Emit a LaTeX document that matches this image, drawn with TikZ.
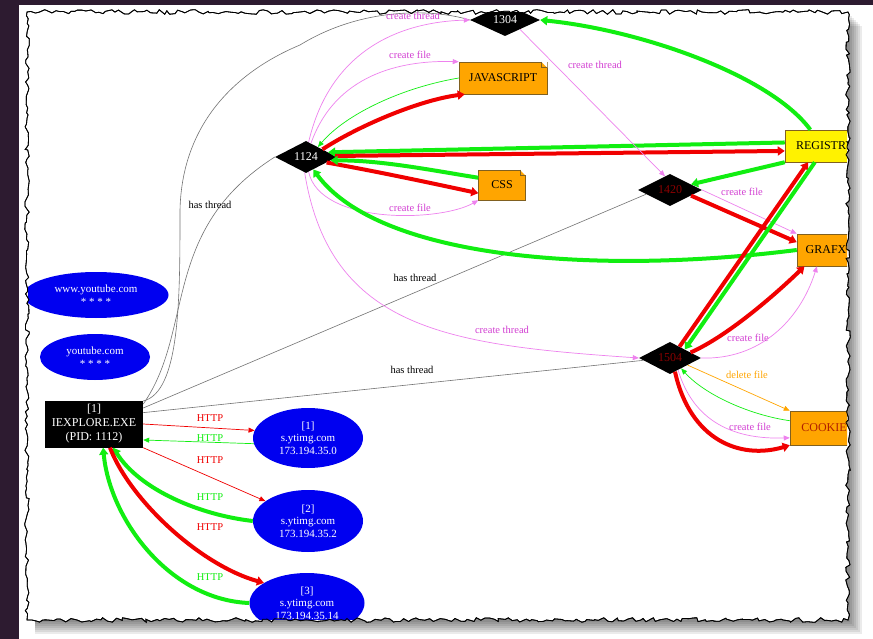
\documentclass[tikz,border=0pt]{standalone}
\usepackage{fontspec}
\setmainfont{Liberation Serif}
\usetikzlibrary{shapes.geometric,arrows.meta,decorations.pathmorphing}
\definecolor{bgpurple}{HTML}{2D1B30}
\definecolor{gvred}{HTML}{F00000}
\definecolor{gvgreen}{HTML}{11EE11}
\definecolor{gvviolet}{HTML}{EE82EE}
\definecolor{gvmag}{HTML}{D23ED2}
\definecolor{gvorange}{HTML}{FFA500}
\definecolor{gvblue}{HTML}{0000F0}
\definecolor{dkred}{HTML}{8B0000}
\definecolor{cookietxt}{HTML}{B02000}
\definecolor{boxline}{HTML}{806020}
\begin{document}
\begin{tikzpicture}[x=1pt,y=-1pt,
  nfont/.style={font=\fontsize{12}{14}\selectfont},
  lfont/.style={font=\fontsize{10.5}{12}\selectfont},
  proc/.style={diamond, fill=black, inner sep=0pt, nfont},
  filebox/.style={rectangle, fill=gvorange, draw=boxline, line width=0.5pt, inner sep=2pt, nfont},
  host/.style={ellipse, fill=gvblue, text=white, align=center, inner sep=0pt, font=\fontsize{11}{12.5}\selectfont},
  elab/.style={lfont, inner sep=1pt},
  hasthr/.style={draw=black!55, line width=0.6pt},
  thinr/.style={draw=gvred, line width=0.7pt, -{Triangle[length=6pt,width=5pt]}},
  thing/.style={draw=gvgreen, line width=0.7pt, -{Triangle[length=6pt,width=5pt]}},
  thinv/.style={draw=gvviolet, line width=0.7pt, -{Triangle[length=6pt,width=5pt]}},
  thino/.style={draw=gvorange, line width=0.7pt, -{Triangle[length=6pt,width=5pt]}},
  fatr/.style={draw=gvred, line width=4pt, -{Triangle[length=7pt,width=9pt]}},
  fatg/.style={draw=gvgreen, line width=4pt, -{Triangle[length=7pt,width=9pt]}},
  torn/.style={decorate, decoration={random steps, segment length=4pt, amplitude=2.3pt}},
]
\useasboundingbox (0,0) rectangle (873,639);
\fill[white] (0,0) rectangle (873,639);
\fill[bgpurple] (0,0) rectangle (19,639);
\fill[bgpurple] (0,0) rectangle (873,5);
% shadow
\foreach \s in {2,4,...,14} \fill[black, opacity=0.08] (35,12+\s) rectangle (848+\s,620+\s);
% paper
\pgfmathsetseed{7}
\filldraw[fill=white, draw=black, line width=0.8pt, torn] (27,12) -- (848,12) -- (848,620) -- (27,620) -- cycle;

\begin{scope}
\clip (28,13) rectangle (847,619);
% nodes
\node[proc, minimum width=70pt, minimum height=22pt, text=white] (n1304) at (505,20) {1304};
\node[proc, minimum width=62pt, minimum height=32pt, text=white] (n1124) at (306,157) {1124};
\node[proc, minimum width=64pt, minimum height=28pt, text=dkred] (dA) at (670,190) {1420};
\node[proc, minimum width=62pt, minimum height=28pt, text=dkred] (dB) at (670,358) {1504};
\node[filebox, minimum width=88pt, minimum height=32pt] (js) at (503,78) {JAVASCRIPT};
\node[filebox, minimum width=47pt, minimum height=30pt] (css) at (502,185) {CSS};
\node[filebox, fill=yellow, minimum width=80pt, minimum height=32pt] (reg) at (825,146) {REGISTRY};
\node[filebox, minimum width=58pt, minimum height=32pt] (grafx) at (826,250) {GRAFX};
\node[filebox, minimum width=68pt, minimum height=34pt, text=cookietxt] (cookie) at (824,428) {COOKIE};
\foreach \n in {js,css,reg,grafx,cookie}{
  \fill[white] ([xshift=-6pt]\n.north east) -- (\n.north east) -- ([yshift=-6pt]\n.north east) -- cycle;
  \draw[boxline, line width=0.5pt] ([xshift=-6pt]\n.north east) -- ([xshift=-6pt,yshift=-6pt]\n.north east) -- ([yshift=-6pt]\n.north east);
}
\node[host, minimum width=145pt, minimum height=46pt] (w1) at (96,295) {www.youtube.com\\* * * *};
\node[host, minimum width=110pt, minimum height=46pt] (w2) at (95,357) {youtube.com\\* * * *};
\node[rectangle, fill=black, text=white, align=center, nfont, minimum width=98pt, minimum height=47pt, inner sep=0pt] (ie) at (94,424) {[1]\\IEXPLORE.EXE\\(PID: 1112)};
\node[host, minimum width=110pt, minimum height=60pt] (v1) at (308,438) {[1]\\s.ytimg.com\\173.194.35.0};
\node[host, minimum width=110pt, minimum height=62pt] (v2) at (308,521) {[2]\\s.ytimg.com\\173.194.35.2};
\node[host, minimum width=115pt, minimum height=60pt] (v3) at (307,603) {[3]\\s.ytimg.com\\173.194.35.14};

% has thread
\draw[hasthr] (ie.25) .. controls (180,392) and (180,300) .. (180,210) .. controls (182,120) and (240,70) .. (300,45) .. controls (360,8) and (430,8) .. (n1304.west);
\draw[hasthr] (ie.22) .. controls (195,330) and (160,230) .. (n1124.west);
\draw[hasthr] (ie.18) -- (dA.190);
\draw[hasthr] (ie.13) -- (dB.185);

% 1124 region
\draw[thinv] (n1124.80) .. controls (330,50) and (400,22) .. (n1304.west);
\draw[thinv] (n1124.70) .. controls (335,75) and (400,60) .. (js.north west);
\draw[thing] (js.west) .. controls (400,88) and (345,115) .. (n1124.40);
\draw[fatr] (n1124.25) .. controls (360,125) and (420,100) .. (js.-157);
\draw[fatg] (reg.175) -- (n1124.12);
\draw[fatr] (n1124.2) -- (reg.187);
\draw[fatr] (n1124.-15) .. controls (380,172) and (440,185) .. (css.-161);
\draw[fatg] (css.163) .. controls (430,170) and (380,160) .. (n1124.-8);
\draw[thinv] (n1124.-80) .. controls (320,225) and (440,222) .. (css.south west);
\draw[thinv] (n1124.-95) .. controls (330,330) and (450,345) .. (dB.west);
\draw[fatg] (grafx.west) .. controls (600,275) and (380,260) .. (n1124.-60);
\draw[fatg] (reg.132) .. controls (770,75) and (640,30) .. (n1304.east);
\draw[thinv] (n1304.-32) -- (dA.110);

% dA region
\draw[fatg] (reg.-158) -- (dA.15);
\draw[fatr] (dA.-15) -- (grafx.165);
\draw[thinv] (dA.east) -- (grafx.north west);

% dB region
\draw[fatr] (dB.50) -- (reg.-136);
\draw[fatg] (reg.-122) -- (dB.30);
\draw[fatr] (dB.15) .. controls (730,335) and (780,290) .. (grafx.-143);
\draw[thinv] (dB.east) .. controls (760,360) and (800,320) .. (grafx.-119);
\draw[thino] (dB.-22) -- (cookie.north west);
\draw[thing] (cookie.168) .. controls (750,415) and (705,395) .. (dB.-43);
\draw[thinv] (dB.-56) .. controls (690,410) and (720,440) .. (cookie.196);
\draw[fatr] (dB.-70) .. controls (690,440) and (740,460) .. (cookie.south west);

% HTTP
\draw[thinr] (ie.east) -- (v1.172);
\draw[thing] (v1.186) -- (ie.-18);
\draw[thinr] (ie.south east) -- (v2.155);
\draw[fatg] (v2.west) .. controls (200,515) and (140,490) .. (ie.-51);
\draw[fatr] (ie.-56) .. controls (130,500) and (200,565) .. (v3.155);
\draw[fatg] (v3.west) .. controls (170,600) and (110,520) .. (ie.-69);

% labels
\node[elab] (l1) at (210,205) {has thread};
\node[elab] (l2) at (415,278) {has thread};
\node[elab] (l3) at (412,370) {has thread};
\node[elab, text=gvmag] (l4) at (413,16) {create thread};
\node[elab, text=gvmag] (l5) at (410,55) {create file};
\node[elab, text=gvmag] (l6) at (410,208) {create file};
\node[elab, text=gvmag] (l7) at (502,330) {create thread};
\node[elab, text=gvmag] (l8) at (595,65) {create thread};
\node[elab, text=gvmag] (l9) at (742,192) {create file};
\node[elab, text=gvmag] (l10) at (748,338) {create file};
\node[elab, text=gvorange] (l11) at (747,375) {delete file};
\node[elab, text=gvmag] (l12) at (750,427) {create file};
\node[elab, text=gvred] (h1) at (210,418) {HTTP};
\node[elab, text=gvgreen] (h2) at (210,438) {HTTP};
\node[elab, text=gvred] (h3) at (210,460) {HTTP};
\node[elab, text=gvgreen] (h4) at (210,497) {HTTP};
\node[elab, text=gvred] (h5) at (210,527) {HTTP};
\node[elab, text=gvgreen] (h6) at (210,577) {HTTP};
\end{scope}
\pgfmathsetseed{7}
\draw[draw=black, line width=0.8pt, torn] (27,12) -- (848,12) -- (848,620) -- (27,620) -- cycle;
\end{tikzpicture}
\end{document}
